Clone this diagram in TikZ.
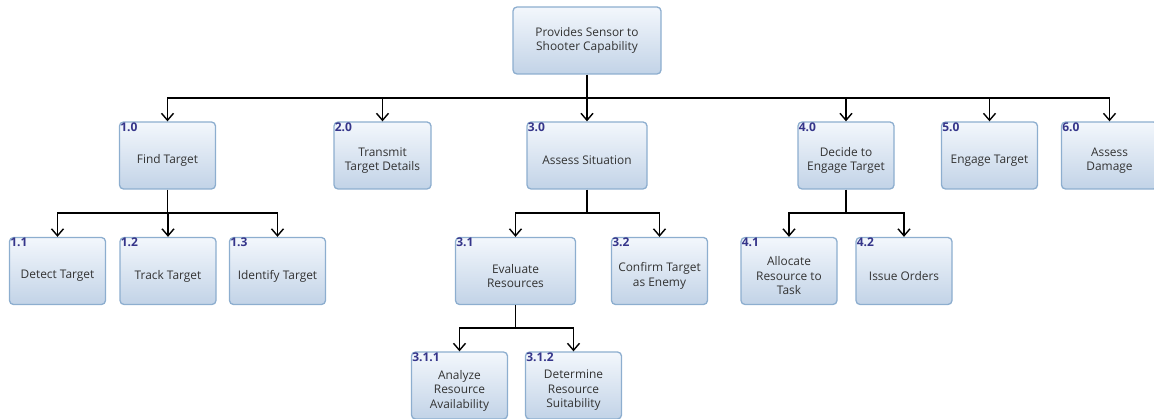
\documentclass[tikz,border=0pt]{standalone}
\usepackage{fontspec}
\setmainfont{Open Sans}
\usetikzlibrary{arrows.meta}
\definecolor{boxtop}{HTML}{F3F7FC}
\definecolor{boxbot}{HTML}{C2D3E7}
\definecolor{boxline}{HTML}{8DAECF}
\definecolor{numblue}{HTML}{35358A}
\definecolor{txtgray}{HTML}{333333}
\tikzset{
  fnbox/.style={rectangle, rounded corners=4pt, draw=boxline, line width=1.3pt,
    top color=boxtop, bottom color=boxbot, minimum height=67pt,
    minimum width=#1, inner sep=0pt},
  fnbox/.default=96pt,
  num/.style={anchor=north west, inner sep=1.2pt, text=numblue,
    font=\fontsize{12}{12}\selectfont\bfseries},
  ftxt/.style={anchor=center, yshift=-5pt, align=center, text=txtgray,
    inner sep=0pt, font=\fontsize{11.9}{14.5}\selectfont},
  conn/.style={line width=1.4pt, -{Straight Barb[length=7pt,width=12pt,line width=1.4pt]}},
  bus/.style={line width=1.4pt}
}
\begin{document}
\begin{tikzpicture}[x=1pt,y=-1pt]
\clip (0,0) rectangle (1154,419);
\useasboundingbox (0,0) rectangle (1154,419);

% root
\node[fnbox=148pt, align=center, text=txtgray, font=\fontsize{11.9}{14.5}\selectfont]
  (root) at (587,40.5) {Provides Sensor to\\Shooter Capability};

% level 1
\node[fnbox, label={[num]north west:1.0}, label={[ftxt]center:Find Target}] (n1) at (167.5,155.5) {};
\node[fnbox=97pt, label={[num]north west:2.0}, label={[ftxt]center:Transmit\\Target Details}] (n2) at (382.5,155.5) {};
\node[fnbox=120pt, label={[num]north west:3.0}, label={[ftxt]center:Assess Situation}] (n3) at (587,155.5) {};
\node[fnbox, label={[num]north west:4.0}, label={[ftxt]center:Decide to\\Engage Target}] (n4) at (846,155.5) {};
\node[fnbox, label={[num]north west:5.0}, label={[ftxt]center:Engage Target}] (n5) at (989.5,155.5) {};
\node[fnbox, label={[num]north west:6.0}, label={[ftxt]center:Assess\\Damage}] (n6) at (1109.5,155.5) {};

% level 2
\node[fnbox, label={[num]north west:1.1}, label={[ftxt]center:Detect Target}] (n11) at (57.5,271) {};
\node[fnbox, label={[num]north west:1.2}, label={[ftxt]center:Track Target}] (n12) at (168,271) {};
\node[fnbox, label={[num]north west:1.3}, label={[ftxt]center:Identify Target}] (n13) at (277.5,271) {};
\node[fnbox=120pt, label={[num]north west:3.1}, label={[ftxt]center:Evaluate\\Resources}] (n31) at (515.5,271) {};
\node[fnbox, label={[num]north west:3.2}, label={[ftxt]center:Confirm Target\\as Enemy}] (n32) at (659.5,271) {};
\node[fnbox, label={[num]north west:4.1}, label={[ftxt]center:Allocate\\Resource to\\Task}] (n41) at (789,271) {};
\node[fnbox, label={[num]north west:4.2}, label={[ftxt]center:Issue Orders}] (n42) at (904,271) {};

% level 3
\node[fnbox, label={[num]north west:3.1.1}, label={[ftxt]center:Analyze\\Resource\\Availability}] (n311) at (459.5,385.5) {};
\node[fnbox, label={[num]north west:3.1.2}, label={[ftxt]center:Determine\\Resource\\Suitability}] (n312) at (573.5,385.5) {};

% bus junctions
\coordinate (b0) at (587,98);
\coordinate (b1) at (167.5,213);
\coordinate (b3) at (587,213);
\coordinate (b4) at (846,213);
\coordinate (b31) at (515.5,328);

% connectors
\draw[bus] (root.south) -- (b0);
\foreach \t in {n1,n2,n3,n4,n5,n6} \draw[conn] (b0) -| (\t.north);
\draw[bus] (n1.south) -- (b1);
\foreach \t in {n11,n12,n13} \draw[conn] (b1) -| (\t.north);
\draw[bus] (n3.south) -- (b3);
\foreach \t in {n31,n32} \draw[conn] (b3) -| (\t.north);
\draw[bus] (n4.south) -- (b4);
\foreach \t in {n41,n42} \draw[conn] (b4) -| (\t.north);
\draw[bus] (n31.south) -- (b31);
\foreach \t in {n311,n312} \draw[conn] (b31) -| (\t.north);
\end{tikzpicture}
\end{document}
